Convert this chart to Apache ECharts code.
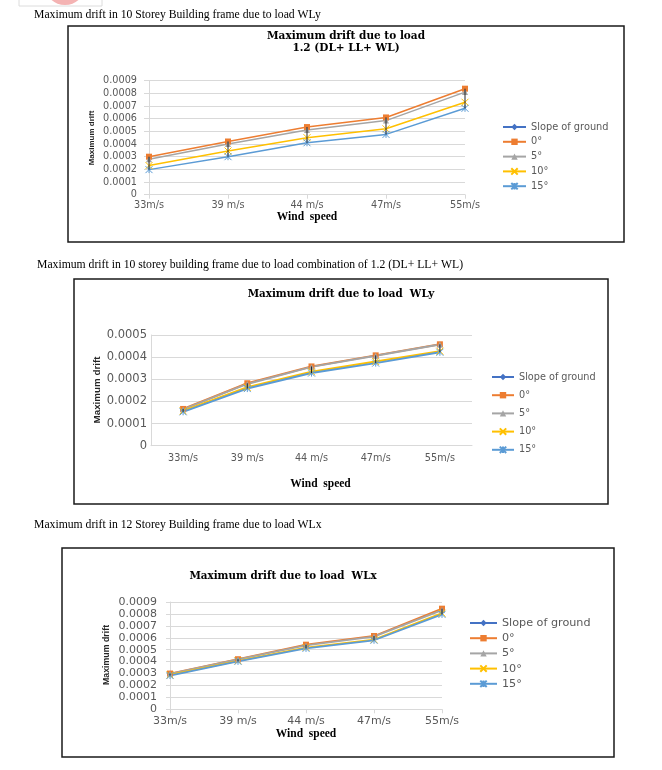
<!DOCTYPE html>
<html><head><meta charset="utf-8">
<script src="https://cdn.jsdelivr.net/npm/echarts/dist/echarts.min.js"></script>
<style>html,body{margin:0;padding:0;background:#fff}#c{width:662px;height:770px}</style>
</head><body><div id="c"></div>
<script>
// ---------- data ----------
const categories = ['33m/s', '39 m/s', '44 m/s', '47m/s', '55m/s'];
const seriesNames = ['Slope of ground', '0°', '5°', '10°', '15°'];
const slopeOfGround = [];

// Chart 1: 10 storey, WLy, 1.2 (DL+LL+WL)
const c1_deg0  = [0.000300, 0.000420, 0.000534, 0.000610, 0.000837];
const c1_deg5  = [0.000280, 0.000400, 0.000510, 0.000585, 0.000810];
const c1_deg10 = [0.000230, 0.000345, 0.000450, 0.000520, 0.000730];
const c1_deg15 = [0.000198, 0.000300, 0.000410, 0.000476, 0.000682];

// Chart 2: 10 storey, WLy
const c2_deg0  = [0.000166, 0.000282, 0.000358, 0.000408, 0.000458];
const c2_deg5  = [0.000164, 0.000279, 0.000356, 0.000406, 0.000457];
const c2_deg10 = [0.000157, 0.000264, 0.000334, 0.000380, 0.000427];
const c2_deg15 = [0.000153, 0.000258, 0.000328, 0.000373, 0.000422];

// Chart 3: 12 storey, WLx
const c3_deg0  = [0.000300, 0.000420, 0.000542, 0.000615, 0.000844];
const c3_deg5  = [0.000297, 0.000418, 0.000536, 0.000610, 0.000832];
const c3_deg10 = [0.000288, 0.000407, 0.000518, 0.000584, 0.000806];
const c3_deg15 = [0.000283, 0.000402, 0.000511, 0.000579, 0.000796];

const yMax = [0.0009, 0.0005, 0.0009];
const yStep = 0.0001;

const captions = [
  'Maximum drift in 10 Storey Building frame due to load WLy',
  'Maximum drift in 10 storey building frame due to load combination of 1.2 (DL+ LL+ WL)',
  'Maximum drift in 12 Storey Building frame due to load WLx'
];
const chartTitles = [
  'Maximum drift due to load\n1.2 (DL+ LL+ WL)',
  'Maximum drift due to load  WLy',
  'Maximum drift due to load  WLx'
];
const xName = 'Wind  speed';
const yName = 'Maximum drift';

// ---------- styles ----------
const COLORS = {slope: '#4472C4', d0: '#ED7D31', d5: '#A5A5A5', d10: '#FFC000', d15: '#5B9BD5'};
const X_PATH = 'path://M0,0L10,10M10,0L0,10';
const STAR_PATH = 'path://M5,0L5,10M0,0L10,10M10,0L0,10';
const SANS = 'DejaVu Sans';
const SERIF = 'Liberation Serif';

const layout = [
  {grid: {left: 149, right: 197, top: 80.7, bottom: 575.3}, gap: false, ylabFs: 9.7, xlabFs: 9.7, ymargin: 12, xmargin: 6, ytick: 5, xtick: 4,
   legend: {left: 502, top: 121, itemWidth: 23, itemGap: 2.8, fs: 9.8, lh: 12}, lw: 1.5},
  {grid: {left: 151, right: 190, top: 335, bottom: 324.3}, gap: true, ylabFs: 11.5, xlabFs: 9.7, ymargin: 4, xmargin: 8, ytick: 0, xtick: 0,
   legend: {left: 491, top: 371, itemWidth: 22, itemGap: 6.2, fs: 9.7, lh: 12}, lw: 2},
  {grid: {left: 170, right: 220, top: 602, bottom: 60.7}, gap: false, ylabFs: 11, xlabFs: 11, ymargin: 13, xmargin: 6, ytick: 4, xtick: 4,
   legend: {left: 469, top: 616.5, itemWidth: 27, itemGap: 2.2, fs: 11.2, lh: 13}, lw: 1.8}
];

const datasets = [
  [c1_deg0, c1_deg5, c1_deg10, c1_deg15],
  [c2_deg0, c2_deg5, c2_deg10, c2_deg15],
  [c3_deg0, c3_deg5, c3_deg10, c3_deg15]
];

const grids = [], xAxes = [], yAxes = [], legends = [], series = [];

function lineSeries(gi, name, data, color, symbol, size, lw, stroke) {
  return {
    type: 'line', name, data, xAxisIndex: gi, yAxisIndex: gi,
    symbol, symbolSize: size, showSymbol: true, showAllSymbol: true,
    lineStyle: {color, width: lw},
    itemStyle: {color, borderColor: color, borderWidth: stroke},
    emphasis: {disabled: true}, z: 3
  };
}

layout.forEach((L, gi) => {
  grids.push(Object.assign({outerBoundsMode: 'none', containLabel: false}, L.grid));
  xAxes.push({
    type: 'category', gridIndex: gi, data: categories, boundaryGap: L.gap,
    axisLine: {show: true, lineStyle: {color: '#d9d9d9', width: 1}},
    axisTick: {show: L.xtick > 0, length: L.xtick, alignWithLabel: true, lineStyle: {color: '#d9d9d9'}},
    axisLabel: {color: '#595959', fontFamily: SANS, fontSize: L.xlabFs, margin: L.xmargin},
    splitLine: {show: false}
  });
  yAxes.push({
    type: 'value', gridIndex: gi, min: 0, max: yMax[gi], interval: yStep,
    axisLine: {show: true, lineStyle: {color: '#d9d9d9', width: 1}},
    axisTick: {show: L.ytick > 0, length: L.ytick, lineStyle: {color: '#d9d9d9'}},
    axisLabel: {color: '#595959', fontFamily: SANS, fontSize: L.ylabFs, margin: L.ymargin,
      formatter: v => v === 0 ? '0' : v.toFixed(4)},
    splitLine: {show: true, lineStyle: {color: '#d9d9d9', width: 1}}
  });
  legends.push({
    data: seriesNames, orient: 'vertical', left: L.legend.left, top: L.legend.top,
    itemWidth: L.legend.itemWidth, itemHeight: 8, itemGap: L.legend.itemGap,
    selectedMode: false, padding: 0,
    textStyle: {fontFamily: SANS, fontSize: L.legend.fs, color: '#595959', lineHeight: L.legend.lh}
  });

  const arrs = datasets[gi];
  // high-low lines (Excel style) from the max to the min of the series at each category
  const hl = categories.map((c, i) => {
    const vals = arrs.map(a => a[i]);
    return [i, Math.max.apply(null, vals), Math.min.apply(null, vals)];
  });
  series.push({
    type: 'custom', xAxisIndex: gi, yAxisIndex: gi, data: hl, silent: true, z: 4,
    encode: {x: 0, y: [1, 2]},
    renderItem: (params, api) => {
      const p1 = api.coord([api.value(0), api.value(1)]);
      const p2 = api.coord([api.value(0), api.value(2)]);
      return {type: 'line', shape: {x1: p1[0], y1: p1[1], x2: p2[0], y2: p2[1]},
        style: {stroke: '#262626', lineWidth: 1}};
    }
  });
  series.push(lineSeries(gi, seriesNames[0], slopeOfGround, COLORS.slope, 'diamond', 6, L.lw, 0));
  series.push(lineSeries(gi, seriesNames[1], arrs[0], COLORS.d0, 'rect', 6, L.lw, 0));
  series.push(lineSeries(gi, seriesNames[2], arrs[1], COLORS.d5, 'triangle', 6, L.lw, 0));
  series.push(lineSeries(gi, seriesNames[3], arrs[2], COLORS.d10, X_PATH, 7, L.lw, 1));
  series.push(lineSeries(gi, seriesNames[4], arrs[3], COLORS.d15, STAR_PATH, 7, L.lw, 1));
});

// ---------- graphic texts & frames ----------
const boxes = [[68, 26, 624, 242], [74, 279, 608, 504], [62, 548, 614, 757]];
const captionPos = [[34, 15], [37, 265], [34, 525]];
const titlePos = [[346, 42.5], [341, 294], [283, 576]];
const xNamePos = [[307, 217], [320.5, 484], [306, 734]];
const yNamePos = [[92, 138, 8], [97, 390, 9.8], [107, 655, 8.8]];

const graphic = [
  {type: 'rect', shape: {x: 19, y: -5, width: 83, height: 11}, style: {fill: '#fff', stroke: '#dcdcdc', lineWidth: 1}},
  {type: 'ellipse', shape: {cx: 65, cy: -10, rx: 18, ry: 15}, style: {fill: '#f4b3b3'}}
];
boxes.forEach(b => graphic.push({type: 'rect', shape: {x: b[0], y: b[1], width: b[2] - b[0], height: b[3] - b[1]},
  style: {fill: 'none', stroke: '#1a1a1a', lineWidth: 1.5}, z: 0}));
captions.forEach((t, i) => graphic.push({type: 'text', x: captionPos[i][0], y: captionPos[i][1],
  style: {text: t, fontFamily: SERIF, fontSize: 11.7, fill: '#000', align: 'left', verticalAlign: 'middle'}}));
chartTitles.forEach((t, i) => graphic.push({type: 'text', x: titlePos[i][0], y: titlePos[i][1],
  style: {text: t, fontFamily: 'DejaVu Serif', fontWeight: 'bold', fontSize: i === 0 ? 10.5 : 10.3, lineHeight: 11.5, fill: '#000', align: 'center', verticalAlign: 'middle'}}));
xNamePos.forEach(p => graphic.push({type: 'text', x: p[0], y: p[1],
  style: {text: xName, fontFamily: SERIF, fontWeight: 'bold', fontSize: 11.5, fill: '#000', align: 'center', verticalAlign: 'middle'}}));
yNamePos.forEach(p => graphic.push({type: 'text', x: p[0], y: p[1], rotation: Math.PI / 2,
  style: {text: yName, fontFamily: 'Liberation Sans', fontWeight: 'bold', fontSize: p[2], fill: '#262626', align: 'center', verticalAlign: 'middle'}}));

const chart = echarts.init(document.getElementById('c'), null, {renderer: 'canvas'});
chart.setOption({
  backgroundColor: '#ffffff',
  animation: false,
  grid: grids, xAxis: xAxes, yAxis: yAxes, legend: legends, series, graphic
});
</script></body></html>
